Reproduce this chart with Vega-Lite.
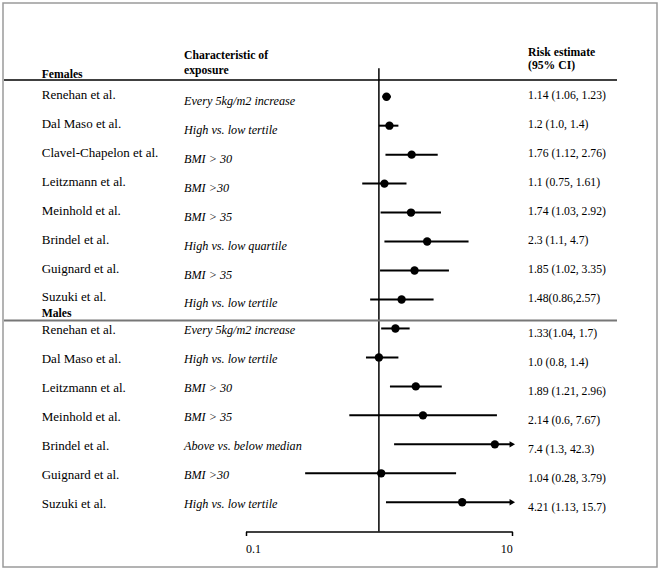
{
  "$schema": "https://vega.github.io/schema/vega-lite/v6.json",
  "width": 654,
  "height": 564,
  "autosize": {"type": "none"},
  "padding": {"left": 3, "top": 3, "right": 3, "bottom": 4},
  "background": "white",
  "config": {
    "view": {"stroke": "#9a9a9a", "strokeWidth": 1.5},
    "font": "Liberation Serif",
    "text": {"font": "Liberation Serif", "fontSize": 12, "color": "black", "align": "left", "baseline": "middle"}
  },
  "data": {
    "values": [
      {"row": 1, "sex": "Females", "study": "Renehan et al.", "exposure": "Every 5kg/m2 increase", "est": 1.14, "lo": 1.06, "hi": 1.23, "ci": "1.14 (1.06, 1.23)"},
      {"row": 2, "sex": "Females", "study": "Dal Maso et al.", "exposure": "High vs. low tertile", "est": 1.2, "lo": 1.0, "hi": 1.4, "ci": "1.2 (1.0, 1.4)"},
      {"row": 3, "sex": "Females", "study": "Clavel-Chapelon et al.", "exposure": "BMI > 30", "est": 1.76, "lo": 1.12, "hi": 2.76, "ci": "1.76 (1.12, 2.76)"},
      {"row": 4, "sex": "Females", "study": "Leitzmann et al.", "exposure": "BMI >30", "est": 1.1, "lo": 0.75, "hi": 1.61, "ci": "1.1 (0.75, 1.61)"},
      {"row": 5, "sex": "Females", "study": "Meinhold et al.", "exposure": "BMI > 35", "est": 1.74, "lo": 1.03, "hi": 2.92, "ci": "1.74 (1.03, 2.92)"},
      {"row": 6, "sex": "Females", "study": "Brindel et al.", "exposure": "High vs. low quartile", "est": 2.3, "lo": 1.1, "hi": 4.7, "ci": "2.3 (1.1, 4.7)"},
      {"row": 7, "sex": "Females", "study": "Guignard et al.", "exposure": "BMI > 35", "est": 1.85, "lo": 1.02, "hi": 3.35, "ci": "1.85 (1.02, 3.35)"},
      {"row": 8, "sex": "Females", "study": "Suzuki et al.", "exposure": "High vs. low tertile", "est": 1.48, "lo": 0.86, "hi": 2.57, "ci": "1.48(0.86,2.57)"},
      {"row": 9, "sex": "Males", "study": "Renehan et al.", "exposure": "Every 5kg/m2 increase", "est": 1.33, "lo": 1.04, "hi": 1.7, "ci": "1.33(1.04, 1.7)"},
      {"row": 10, "sex": "Males", "study": "Dal Maso  et al.", "exposure": "High vs. low tertile", "est": 1.0, "lo": 0.8, "hi": 1.4, "ci": "1.0 (0.8, 1.4)"},
      {"row": 11, "sex": "Males", "study": "Leitzmann et al.", "exposure": "BMI > 30", "est": 1.89, "lo": 1.21, "hi": 2.96, "ci": "1.89 (1.21, 2.96)"},
      {"row": 12, "sex": "Males", "study": "Meinhold et al.", "exposure": "BMI > 35", "est": 2.14, "lo": 0.6, "hi": 7.67, "ci": "2.14 (0.6, 7.67)"},
      {"row": 13, "sex": "Males", "study": "Brindel et al.", "exposure": "Above vs. below median", "est": 7.4, "lo": 1.3, "hi": 42.3, "ci": "7.4 (1.3, 42.3)"},
      {"row": 14, "sex": "Males", "study": "Guignard et al.", "exposure": "BMI >30", "est": 1.04, "lo": 0.28, "hi": 3.79, "ci": "1.04 (0.28, 3.79)"},
      {"row": 15, "sex": "Males", "study": "Suzuki et al.", "exposure": "High vs. low tertile", "est": 4.21, "lo": 1.13, "hi": 15.7, "ci": "4.21 (1.13, 15.7)"}
    ]
  },
  "layer": [
    {
      "data": {"values": [{}]},
      "mark": {"type": "rule", "color": "black", "strokeWidth": 1.5},
      "encoding": {
        "x": {
          "datum": 1, "type": "quantitative",
          "scale": {"type": "log", "domain": [0.1, 10], "range": [242.5, 509.3], "nice": false},
          "axis": {
            "values": [0.1, 10], "format": "~g", "title": null, "grid": false,
            "offset": -35.5, "domain": true, "domainColor": "black", "domainWidth": 1.5,
            "ticks": true, "tickColor": "black", "tickWidth": 1.5, "tickSize": 4,
            "labelFont": "Liberation Serif", "labelFontSize": 12, "labelColor": "black", "labelPadding": 8
          }
        },
        "y": {
          "datum": 0.02, "type": "quantitative",
          "scale": {"domain": [-2.2344, 17.234], "reverse": true, "nice": false, "zero": false},
          "axis": null
        },
        "y2": {"datum": 16.009}
      }
    },
    {
      "data": {"values": [{}]},
      "mark": {"type": "rule", "color": "black", "strokeWidth": 1.5},
      "encoding": {
        "x": {"datum": 0.001547, "type": "quantitative"},
        "x2": {"datum": 60.93},
        "y": {"datum": 0.4235, "type": "quantitative", "axis": null}
      }
    },
    {
      "data": {"values": [{}]},
      "mark": {"type": "rule", "color": "#777777", "strokeWidth": 2},
      "encoding": {
        "x": {"datum": 0.001547, "type": "quantitative"},
        "x2": {"datum": 60.93},
        "y": {"datum": 8.725, "type": "quantitative", "axis": null}
      }
    },
    {
      "transform": [{"calculate": "min(datum.hi, 10)", "as": "hi_shown"}],
      "mark": {"type": "rule", "color": "black", "strokeWidth": 2},
      "encoding": {
        "x": {"field": "lo", "type": "quantitative"},
        "x2": {"field": "hi_shown"},
        "y": {"field": "row", "type": "quantitative", "axis": null}
      }
    },
    {
      "mark": {"type": "point", "filled": true, "color": "black", "opacity": 1, "size": 70},
      "encoding": {
        "x": {"field": "est", "type": "quantitative"},
        "y": {"field": "row", "type": "quantitative", "axis": null}
      }
    },
    {
      "transform": [{"filter": "datum.hi > 10"}],
      "mark": {"type": "point", "shape": "triangle-right", "filled": true, "color": "black", "opacity": 1, "size": 40},
      "encoding": {
        "x": {"datum": 10, "type": "quantitative"},
        "y": {"field": "row", "type": "quantitative", "axis": null}
      }
    },
    {
      "transform": [{"filter": "datum.sex == 'Females'"}],
      "mark": {"type": "text", "fontSize": 13, "dy": -2},
      "encoding": {
        "x": {"datum": 0.002968, "type": "quantitative"},
        "y": {"field": "row", "type": "quantitative", "axis": null},
        "text": {"field": "study"}
      }
    },
    {
      "transform": [{"filter": "datum.sex == 'Males'"}],
      "mark": {"type": "text", "fontSize": 13, "dy": 1.5},
      "encoding": {
        "x": {"datum": 0.002968, "type": "quantitative"},
        "y": {"field": "row", "type": "quantitative", "axis": null},
        "text": {"field": "study"}
      }
    },
    {
      "transform": [{"filter": "datum.sex == 'Females'"}],
      "mark": {"type": "text", "fontSize": 12.2, "fontStyle": "italic", "dy": 4},
      "encoding": {
        "x": {"datum": 0.03459, "type": "quantitative"},
        "y": {"field": "row", "type": "quantitative", "axis": null},
        "text": {"field": "exposure"}
      }
    },
    {
      "transform": [{"filter": "datum.sex == 'Males'"}],
      "mark": {"type": "text", "fontSize": 12.2, "fontStyle": "italic", "dy": 1.5},
      "encoding": {
        "x": {"datum": 0.03459, "type": "quantitative"},
        "y": {"field": "row", "type": "quantitative", "axis": null},
        "text": {"field": "exposure"}
      }
    },
    {
      "transform": [{"filter": "datum.sex == 'Females'"}],
      "mark": {"type": "text", "fontSize": 11.7, "dy": -1.5},
      "encoding": {
        "x": {"datum": 13.12, "type": "quantitative"},
        "y": {"field": "row", "type": "quantitative", "axis": null},
        "text": {"field": "ci"}
      }
    },
    {
      "transform": [{"filter": "datum.sex == 'Males'"}],
      "mark": {"type": "text", "fontSize": 11.7, "dy": 5},
      "encoding": {
        "x": {"datum": 13.12, "type": "quantitative"},
        "y": {"field": "row", "type": "quantitative", "axis": null},
        "text": {"field": "ci"}
      }
    },
    {
      "data": {"values": [{}]},
      "mark": {"type": "text", "fontSize": 11.7, "fontWeight": "bold"},
      "encoding": {
        "x": {"datum": 0.002968, "type": "quantitative"},
        "y": {"datum": 0.2268, "type": "quantitative", "axis": null},
        "text": {"value": "Females"}
      }
    },
    {
      "data": {"values": [{}]},
      "mark": {"type": "text", "fontSize": 11.7, "fontWeight": "bold"},
      "encoding": {
        "x": {"datum": 0.002968, "type": "quantitative"},
        "y": {"datum": 8.477, "type": "quantitative", "axis": null},
        "text": {"value": "Males"}
      }
    },
    {
      "data": {"values": [{}]},
      "mark": {"type": "text", "fontSize": 11.7, "fontWeight": "bold"},
      "encoding": {
        "x": {"datum": 0.03459, "type": "quantitative"},
        "y": {"datum": -0.4394, "type": "quantitative", "axis": null},
        "text": {"value": "Characteristic of"}
      }
    },
    {
      "data": {"values": [{}]},
      "mark": {"type": "text", "fontSize": 11.7, "fontWeight": "bold"},
      "encoding": {
        "x": {"datum": 0.03459, "type": "quantitative"},
        "y": {"datum": 0.0784, "type": "quantitative", "axis": null},
        "text": {"value": "exposure"}
      }
    },
    {
      "data": {"values": [{}]},
      "mark": {"type": "text", "fontSize": 11.7, "fontWeight": "bold"},
      "encoding": {
        "x": {"datum": 13.12, "type": "quantitative"},
        "y": {"datum": -0.5533, "type": "quantitative", "axis": null},
        "text": {"value": "Risk estimate"}
      }
    },
    {
      "data": {"values": [{}]},
      "mark": {"type": "text", "fontSize": 11.7, "fontWeight": "bold"},
      "encoding": {
        "x": {"datum": 13.12, "type": "quantitative"},
        "y": {"datum": -0.0942, "type": "quantitative", "axis": null},
        "text": {"value": "(95% CI)"}
      }
    }
  ]
}
